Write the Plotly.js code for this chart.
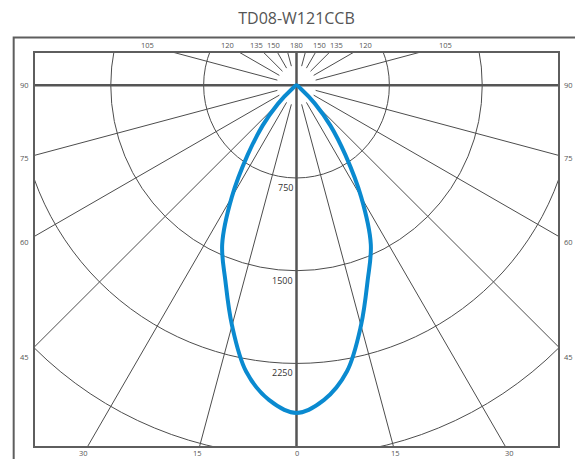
<!DOCTYPE html>
<html><head><meta charset="utf-8">
<script src="https://cdn.plot.ly/plotly-3.0.1.min.js"></script>
<style>html,body{margin:0;padding:0;background:#fff}</style>
</head><body><div id="chart" style="width:575px;height:459px"></div>
<script>
// ---- data ----
const chartTitle = 'TD08-W121CCB';
const gammaAngles = [0, 5, 10, 15, 20, 25, 30, 35, 40, 45, 50, 55, 60, 65, 70, 75, 80, 85, 90];
const intensities = [2650, 2554, 2349, 2012, 1680, 1420, 1045, 688, 426, 210, 45, 0, 0, 0, 0, 0, 0, 0, 0];
const circleValues = [750, 1500, 2250, 3000];
const circleLabels = ['750', '1500', '2250'];
const rayAngles = [15, 30, 45, 60, 75, 105, 120, 135, 150, 165];
const angleLabels = [0, 15, 30, 45, 60, 75, 90, 105, 120, 135, 150, 180];

// ---- axes (cd units, origin at the lamp) ----
const xRange = [-2120, 2120];
const yRange = [-2926, 269];
const rayStart = 160;
const rad = d => d * Math.PI / 180;

// curve: left half then right half, starting and ending at the origin
const cx = [], cy = [];
function pushPt(x, y) {
  const n = cx.length;
  if (n && Math.abs(cx[n-1] - x) < 1e-9 && Math.abs(cy[n-1] - y) < 1e-9) return;
  cx.push(x); cy.push(y);
}
for (let i = gammaAngles.length - 1; i >= 0; i--) {
  const t = rad(gammaAngles[i]);
  pushPt(-intensities[i] * Math.sin(t), -intensities[i] * Math.cos(t));
}
for (let i = 1; i < gammaAngles.length; i++) {
  const t = rad(gammaAngles[i]);
  pushPt(intensities[i] * Math.sin(t), -intensities[i] * Math.cos(t));
}
for (let i = 0; i < cx.length; i++) { if (Math.abs(cx[i]) < 1e-9) cx[i] = 0; if (Math.abs(cy[i]) < 1e-9) cy[i] = 0; }

const gridColor = '#4d4d4d';
const shapes = [];
circleValues.forEach(r => shapes.push({type: 'circle', xref: 'x', yref: 'y', x0: -r, x1: r, y0: -r, y1: r,
  line: {color: gridColor, width: 1}, layer: 'below'}));
rayAngles.forEach(a => {
  [-1, 1].forEach(s => {
    const t = rad(a);
    shapes.push({type: 'line', xref: 'x', yref: 'y',
      x0: s * rayStart * Math.sin(t), y0: -rayStart * Math.cos(t),
      x1: s * 6000 * Math.sin(t), y1: -6000 * Math.cos(t),
      line: {color: gridColor, width: 1}, layer: 'below'});
  });
});
// main axes through the origin
shapes.push({type: 'line', xref: 'x', yref: 'y', x0: 0, x1: 0, y0: -6000, y1: 6000, line: {color: '#555', width: 2.5}, layer: 'below'});
shapes.push({type: 'line', xref: 'x', yref: 'y', x0: -6000, x1: 6000, y0: 0, y1: 0, line: {color: '#555', width: 2.5}, layer: 'below'});
// inner frame
shapes.push({type: 'rect', xref: 'paper', yref: 'paper', x0: 0, x1: 1, y0: 0, y1: 1, line: {color: '#5e5e5e', width: 2}});
// outer frame (left and top edges, continuing past the picture)
shapes.push({type: 'path', xref: 'paper', yref: 'paper',
  path: 'M -0.0387,-0.2 L -0.0387,1.0364 L 1.3,1.0364', line: {color: '#5e5e5e', width: 2}});

const toPx = x => (x - xRange[0]) / (xRange[1] - xRange[0]);
const toPy = y => (y - yRange[0]) / (yRange[1] - yRange[0]);

const annotations = [];
// angle labels placed where each ray meets the label band
const labelTop = 323, labelBottom = -2975, labelSide = 2195;
angleLabels.forEach(a => {
  const sides = (a === 0 || a === 180) ? [1] : [-1, 1];
  sides.forEach(s => {
    const t = rad(a), sx = Math.sin(t), cy_ = Math.cos(t);
    let k = Infinity;
    if (cy_ > 1e-9) k = Math.min(k, -labelBottom / cy_);
    if (cy_ < -1e-9) k = Math.min(k, labelTop / -cy_);
    if (sx > 1e-9) k = Math.min(k, labelSide / sx);
    const x = s * k * sx, y = -k * cy_;
    annotations.push({xref: 'paper', yref: 'paper', x: toPx(x), y: toPy(y), text: String(a),
      showarrow: false, xanchor: 'center', yanchor: 'middle', borderpad: 0,
      font: {family: 'Open Sans, sans-serif', size: 7.5, color: '#555'}});
  });
});
circleLabels.forEach((lab, i) => {
  annotations.push({xref: 'x', yref: 'y', x: -15, y: -circleValues[i], text: lab, showarrow: false,
    xanchor: 'right', yanchor: 'top', yshift: -1,
    font: {family: 'Open Sans, sans-serif', size: 9, color: '#333'}});
});

const data = [{
  type: 'scatter', mode: 'lines', x: cx, y: cy,
  line: {color: '#0a8ad0', width: 4, shape: 'spline', smoothing: 1},
  hoverinfo: 'skip', cliponaxis: false
}];

const layout = {
  width: 575, height: 459,
  margin: {l: 34.3, r: 15.7, t: 51.7, b: 11.7, pad: 0},
  paper_bgcolor: '#fff', plot_bgcolor: '#fff',
  title: {text: chartTitle, x: 0.5, xref: 'paper', xanchor: 'center', y: 1 - 18 / 459, yref: 'container', yanchor: 'middle',
    font: {family: 'Open Sans, sans-serif', size: 16, color: '#555'}},
  xaxis: {range: xRange, visible: false, fixedrange: true},
  yaxis: {range: yRange, visible: false, fixedrange: true},
  showlegend: false,
  shapes: shapes,
  annotations: annotations
};
Plotly.newPlot('chart', data, layout, {displayModeBar: false, staticPlot: true});
</script>
</body></html>
